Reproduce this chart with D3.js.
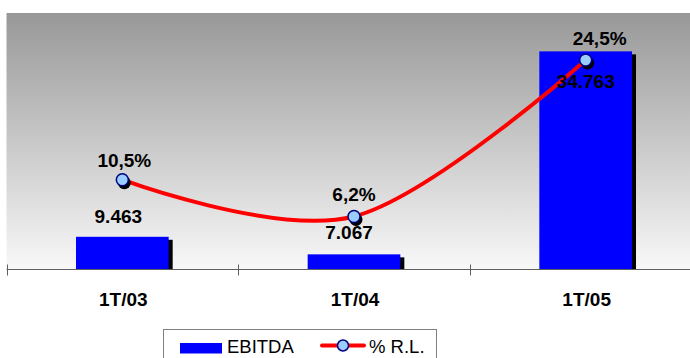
<!DOCTYPE html>
<html>
<head>
<meta charset="utf-8">
<script src="https://cdn.jsdelivr.net/npm/d3@7"></script>
<style>
  html, body { margin: 0; padding: 0; background: #ffffff; }
  svg { display: block; }
  text { font-family: Arial, "Liberation Sans", sans-serif; }
</style>
</head>
<body>
<svg id="chart" width="690" height="358"></svg>
<script>
// Quarterly EBITDA and EBITDA margin (% of net revenue)
const categories = ["1T/03", "1T/04", "1T/05"];
const ebitda = [9463, 7067, 34763];
const margin = [10.5, 6.2, 24.5];
const ebitdaLabels = ["9.463", "7.067", "34.763"];
const marginLabels = ["10,5%", "6,2%", "24,5%"];
const legendNames = ["EBITDA", "% R.L."];

// label nudges (px) relative to the mark they describe
const ebitdaLabelShift = [[-4, -14], [-5, -15], [0, 37]];
const marginLabelShift = [[2, -13], [0, -15], [14, -15]];

const W = 690, H = 358;
const plot = { left: 6.5, top: 13, right: 701.5, bottom: 269.5 };

const svg = d3.select("#chart");

const x = d3.scaleBand()
  .domain(categories)
  .range([plot.left, plot.right])
  .paddingInner(0.6)
  .paddingOuter(0.3);

const yBar = d3.scaleLinear().domain([5000, 40000]).range([plot.bottom, plot.top]);
const yPct = d3.scaleLinear().domain([0, 30]).range([plot.bottom, plot.top]);

// plot area background
const defs = svg.append("defs");
const grad = defs.append("linearGradient")
  .attr("id", "bg").attr("x1", 0).attr("y1", 0).attr("x2", 0).attr("y2", 1);
grad.append("stop").attr("offset", "0%").attr("stop-color", "#989898");
grad.append("stop").attr("offset", "100%").attr("stop-color", "#f8f8f8");

svg.append("rect")
  .attr("x", plot.left).attr("y", plot.top)
  .attr("width", W - plot.left).attr("height", plot.bottom - plot.top)
  .attr("fill", "url(#bg)");

// bars with drop shadow
const bars = svg.append("g");
bars.selectAll("rect.shadow")
  .data(ebitda)
  .join("rect")
  .attr("class", "shadow")
  .attr("x", (d, i) => x(categories[i]) + 4)
  .attr("y", d => yBar(d) + 3)
  .attr("width", x.bandwidth())
  .attr("height", d => plot.bottom - yBar(d) - 3)
  .attr("fill", "#000000");
bars.selectAll("rect.bar")
  .data(ebitda)
  .join("rect")
  .attr("class", "bar")
  .attr("x", (d, i) => x(categories[i]))
  .attr("y", d => yBar(d))
  .attr("width", x.bandwidth())
  .attr("height", d => plot.bottom - yBar(d))
  .attr("fill", "#0000ff");

// category axis
const xAxis = d3.axisBottom(x).tickSize(0).tickFormat("");
const axisG = svg.append("g").attr("transform", `translate(0,${plot.bottom})`).call(xAxis);
axisG.select(".domain").remove();
axisG.append("line")
  .attr("x1", plot.left).attr("x2", W)
  .attr("stroke", "#606060").attr("stroke-width", 1);
const tickPos = categories.map(c => x(c) - x.step() * x.paddingInner() / 2);
axisG.selectAll("line.tk")
  .data(tickPos)
  .join("line")
  .attr("class", "tk")
  .attr("x1", d => Math.round(d) + 0.5).attr("x2", d => Math.round(d) + 0.5)
  .attr("y1", -5).attr("y2", 6)
  .attr("stroke", "#606060");
svg.append("g").selectAll("text")
  .data(categories)
  .join("text")
  .attr("x", d => x(d) + x.bandwidth() / 2 + 1)
  .attr("y", 306)
  .attr("text-anchor", "middle")
  .attr("font-size", 19)
  .attr("font-weight", "bold")
  .attr("fill", "#000")
  .text(d => d);

// margin line
const cx = i => x(categories[i]) + x.bandwidth() / 2;
const line = d3.line()
  .x((d, i) => cx(i))
  .y(d => yPct(d))
  .curve(d3.curveCardinal.tension(0));

svg.append("path")
  .datum(margin)
  .attr("d", line)
  .attr("fill", "none")
  .attr("stroke", "#ff0000")
  .attr("stroke-width", 4)
  .attr("stroke-linecap", "round");

const markers = svg.append("g");
markers.selectAll("circle.shadow")
  .data(margin)
  .join("circle")
  .attr("class", "shadow")
  .attr("cx", (d, i) => cx(i) + 2)
  .attr("cy", d => yPct(d) + 3)
  .attr("r", 6.5)
  .attr("fill", "#000");
markers.selectAll("circle.pt")
  .data(margin)
  .join("circle")
  .attr("class", "pt")
  .attr("cx", (d, i) => cx(i))
  .attr("cy", d => yPct(d))
  .attr("r", 6)
  .attr("fill", "#99ccff")
  .attr("stroke", "#000080")
  .attr("stroke-width", 1.5);

// data labels
svg.append("g").selectAll("text")
  .data(ebitda)
  .join("text")
  .attr("x", (d, i) => cx(i) + ebitdaLabelShift[i][0])
  .attr("y", (d, i) => yBar(d) + ebitdaLabelShift[i][1])
  .attr("text-anchor", "middle")
  .attr("font-size", 19)
  .attr("font-weight", "bold")
  .text((d, i) => ebitdaLabels[i]);

svg.append("g").selectAll("text")
  .data(margin)
  .join("text")
  .attr("x", (d, i) => cx(i) + marginLabelShift[i][0])
  .attr("y", (d, i) => yPct(d) + marginLabelShift[i][1])
  .attr("text-anchor", "middle")
  .attr("font-size", 19)
  .attr("font-weight", "bold")
  .text((d, i) => marginLabels[i]);

// legend
const lg = svg.append("g");
lg.append("rect")
  .attr("x", 163.5).attr("y", 329.5)
  .attr("width", 273).attr("height", 40)
  .attr("fill", "#ffffff").attr("stroke", "#808080");
lg.append("rect")
  .attr("x", 180).attr("y", 343)
  .attr("width", 42).attr("height", 10.5)
  .attr("fill", "#0000ff");
lg.append("text")
  .attr("x", 227).attr("y", 352.5)
  .attr("font-size", 18.5)
  .text(legendNames[0]);
lg.append("line")
  .attr("x1", 322).attr("x2", 364).attr("y1", 345.5).attr("y2", 345.5)
  .attr("stroke", "#ff0000").attr("stroke-width", 4).attr("stroke-linecap", "round");
lg.append("circle")
  .attr("cx", 343).attr("cy", 345.5).attr("r", 5.5)
  .attr("fill", "#99ccff").attr("stroke", "#000080").attr("stroke-width", 1.5);
lg.append("text")
  .attr("x", 369).attr("y", 352.5)
  .attr("font-size", 18.5)
  .text(legendNames[1]);
</script>
</body>
</html>
